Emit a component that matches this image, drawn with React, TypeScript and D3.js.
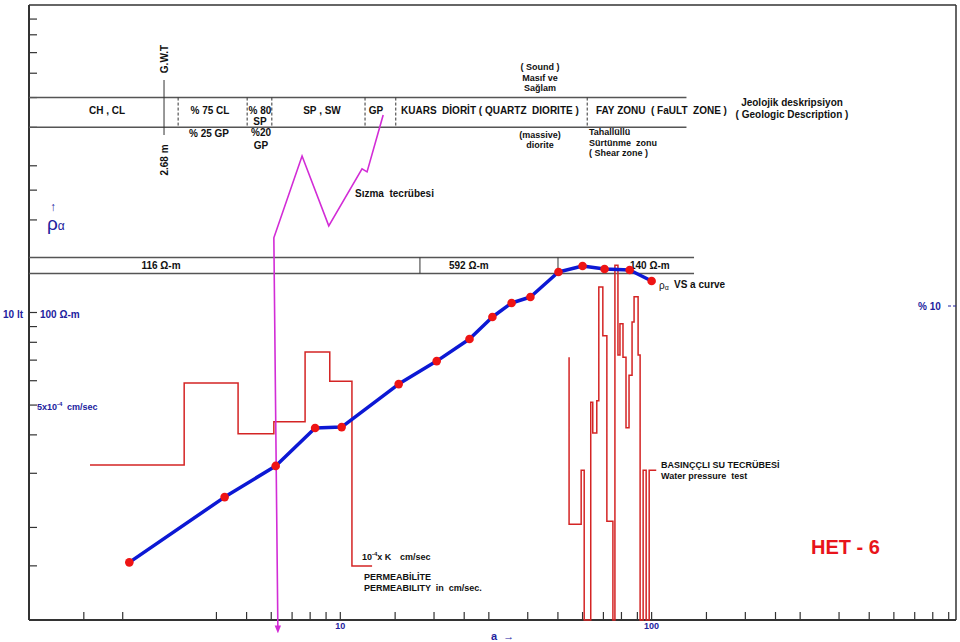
import React from "react";
import * as d3 from "d3";

// ---- Data ----
// Apparent resistivity curve (rho_a vs a)
const aValues = [2.1, 4.25, 6.2, 8.3, 10.1, 15.4, 20.4, 26, 30.8, 35.5, 40.8, 50.2, 60, 70.6, 85, 100];
const rhoValues = [15.4, 25.1, 31.7, 42.1, 42.4, 58.5, 69.5, 82.0, 96.7, 107.4, 112.3, 135.4, 141.6, 138.5, 137.5, 126.6];

const xTicks = [1.5, 2, 4, 5, 6, 7, 8, 9, 10, 15, 20, 25, 30, 40, 50, 60, 70, 80, 90, 100, 150, 200, 250, 300, 400, 500, 600, 700, 800, 900];
const yTicks = [15, 20, 30, 40, 50, 60, 70, 80, 90, 100, 200, 250, 300, 400, 500, 600, 700, 800, 900];
const xTickLabels = [10, 100];

// Geologic column (depth in m)
const gwtDepth = 2.68;
const geoBounds = [2.96, 4.33, 4.82, 6.67, 7.28, 11.08];
const geoEnd = 13.05;
const geoTableRho = [500, 400];

// Resistivity layers
const resBounds = [7.76, 10.5];
const resEnd = 13.2;
const resTableRho = [151, 134];
const resLabels = ["116 Ω-m", "592 Ω-m", "140 Ω-m"];

// Permeability step curves (depth m, k x10^-4 cm/sec)
const permLeft: [number, number][] = [
  [1.21, 3.62], [3.08, 5.54], [4.15, 4.35], [4.86, 4.63], [5.48, 6.26], [5.97, 5.58], [6.41, 1.26], [6.81, 1.26],
];
const permRight: [number, number][] = [
  [10.72, 6.14], [10.72, 2.24], [10.96, 3.5], [11.02, 0], [11.15, 5.09], [11.19, 4.37], [11.27, 5.12], [11.31, 7.78],
  [11.39, 6.64], [11.47, 2.31], [11.59, 0], [11.63, 8.29], [11.69, 6.19], [11.73, 6.92], [11.79, 6.14], [11.85, 4.49],
  [11.91, 5.72], [11.97, 6.96], [12.01, 7.55], [12.09, 6.19], [12.13, 0], [12.19, 3.5], [12.25, 0], [12.31, 3.5], [12.45, 3.5],
];

// Seepage test line (depth m, k units)
const seepage: [number, number][] = [
  [7.03, 11.8], [6.71, 10.47], [6.61, 10.54], [5.95, 9.21], [5.42, 10.84], [4.86, 8.93], [4.94, -0.22],
];

// ---- Scales ----
const W = 960, H = 642;
const xScale = d3.scaleLog().domain([1, 950]).range([29, 956]);
const yScale = d3.scaleLog().domain([10, 1000]).range([620, 5]);
const depthX = d3.scaleLinear().domain([0, 18.4]).range([29, 956]);
const kY = d3.scaleLinear().domain([0, 10]).range([620, 192]);

const FONT = "'Liberation Sans', Arial, Helvetica, sans-serif";
const BLUE_TXT = "#22229e";
const AXIS = "#333";
const PRE = { whiteSpace: "pre" as const };

export default function App() {
  const x0 = xScale(1), x1 = xScale(950);
  const yT = yScale(1000), yB = yScale(10);

  const rhoLine = d3.line<number>()
    .x((_, i) => xScale(aValues[i]))
    .y((d) => yScale(d));

  const stepLine = d3.line<[number, number]>()
    .x((d) => depthX(d[0]))
    .y((d) => kY(d[1]))
    .curve(d3.curveStepAfter);

  const seepLine = d3.line<[number, number]>()
    .x((d) => depthX(d[0]))
    .y((d) => kY(d[1]));

  const gx = geoTableRho.map((r) => yScale(r));
  const rx = resTableRho.map((r) => yScale(r));

  const txt = (s: string, x: number, y: number, opts: any = {}) => (
    <text x={x} y={y} fontFamily={FONT} fontSize={opts.size ?? 10} fontWeight={opts.weight ?? "bold"}
      textAnchor={opts.anchor ?? "start"} fill={opts.fill ?? "#111"} style={PRE}>{s}</text>
  );

  const resEdges = [0, ...resBounds, resEnd];

  return (
    <svg width={W} height={H} style={{ position: "absolute", left: 0, top: 0, background: "#fff" }}>
      <defs>
        <marker id="arr" viewBox="0 0 10 10" refX="5" refY="5" markerWidth="5" markerHeight="6" orient="auto">
          <path d="M0,1 L10,5 L0,9 z" fill="#d22cd6" />
        </marker>
      </defs>

      {/* frame */}
      <line x1={x0} y1={yT} x2={x1} y2={yT} stroke={AXIS} strokeWidth={1.5} />
      <line x1={x1} y1={yT} x2={x1} y2={yB} stroke={AXIS} strokeWidth={1.5} />
      <line x1={x0} y1={yT} x2={x0} y2={yB} stroke={AXIS} strokeWidth={2} />
      <line x1={x0} y1={yB} x2={x1} y2={yB} stroke={AXIS} strokeWidth={2} />

      {/* left ticks */}
      {yTicks.map((t) => (
        <line key={"yt" + t} x1={x0} x2={x0 + 8} y1={yScale(t)} y2={yScale(t)} stroke={AXIS} strokeWidth={1.2} />
      ))}
      {/* bottom ticks */}
      {xTicks.map((t) => (
        <line key={"xt" + t} x1={xScale(t)} x2={xScale(t)} y1={yB} y2={yB - 8} stroke={AXIS} strokeWidth={1.2} />
      ))}
      {xTickLabels.map((t) => (
        <text key={"xl" + t} x={xScale(t)} y={yB + 9} fontFamily={FONT} fontSize={9} fontWeight="bold"
          textAnchor="middle" fill={BLUE_TXT}>{t}</text>
      ))}

      {/* geologic table */}
      {gx.map((y, i) => (
        <line key={"g" + i} x1={x0} x2={depthX(geoEnd)} y1={y} y2={y} stroke="#555" strokeWidth={1.5} />
      ))}
      {geoBounds.map((d, i) => (
        <line key={"gb" + i} x1={depthX(d)} x2={depthX(d)} y1={gx[0]} y2={gx[1]} stroke={AXIS} strokeWidth={1} strokeDasharray="3,2" />
      ))}
      <line x1={depthX(gwtDepth)} x2={depthX(gwtDepth)} y1={80} y2={135} stroke={AXIS} strokeWidth={1} />
      <text transform={`translate(${depthX(gwtDepth) + 3.5},59) rotate(-90)`} fontFamily={FONT} fontSize={10} fontWeight="bold" textAnchor="middle" fill="#111">G.W.T</text>
      <text transform={`translate(${depthX(gwtDepth) + 3.5},160) rotate(-90)`} fontFamily={FONT} fontSize={10} fontWeight="bold" textAnchor="middle" fill="#111">2.68 m</text>

      {txt("CH , CL", 107, 114, { anchor: "middle" })}
      {txt("% 75 CL", 210, 114, { anchor: "middle" })}
      {txt("% 25 GP", 209, 137, { anchor: "middle" })}
      {txt("% 80", 260, 114, { anchor: "middle" })}
      {txt("SP", 260, 125, { anchor: "middle" })}
      {txt("%20", 261, 136, { anchor: "middle" })}
      {txt("GP", 261, 149, { anchor: "middle" })}
      {txt("SP , SW", 322, 114, { anchor: "middle" })}
      {txt("GP", 376, 114, { anchor: "middle" })}
      {txt("KUARS  DİORİT ( QUARTZ  DIORITE )", 401, 114)}
      {txt("FAY ZONU  ( FaULT  ZONE )", 596, 114)}
      {txt("Jeolojik deskripsiyon", 792, 106, { anchor: "middle" })}
      {txt("( Geologic Description )", 792, 118, { anchor: "middle" })}
      {txt("( Sound )", 540, 70, { anchor: "middle", size: 9 })}
      {txt("Masıf ve", 540, 81, { anchor: "middle", size: 9 })}
      {txt("Sağlam", 540, 91, { anchor: "middle", size: 9 })}
      {txt("(massive)", 540, 138, { anchor: "middle", size: 9 })}
      {txt("diorite", 540, 148, { anchor: "middle", size: 9 })}
      {txt("Tahallüllü", 589, 135, { size: 9 })}
      {txt("Sürtünme  zonu", 589, 146, { size: 9 })}
      {txt("( Shear zone )", 589, 156, { size: 9 })}
      {txt("Sızma  tecrübesi", 355, 197)}

      {/* resistivity table */}
      {rx.map((y, i) => (
        <line key={"r" + i} x1={x0} x2={depthX(resEnd)} y1={y} y2={y} stroke="#555" strokeWidth={1.5} />
      ))}
      {resBounds.map((d, i) => (
        <line key={"rb" + i} x1={depthX(d)} x2={depthX(d)} y1={rx[0]} y2={rx[1]} stroke={AXIS} strokeWidth={1} />
      ))}
      {txt(resLabels[0], depthX(resEdges[0]) + 132, 269, { anchor: "middle" })}
      {txt(resLabels[1], depthX(resEdges[1]) + 29, 269)}
      {txt(resLabels[2], depthX(resEdges[2]) + 72, 269)}

      {/* permeability steps */}
      <path d={stepLine(permLeft) ?? ""} fill="none" stroke="#d42424" strokeWidth={1.5} />
      <path d={stepLine(permRight) ?? ""} fill="none" stroke="#d42424" strokeWidth={1.5} />

      {/* seepage */}
      <path d={seepLine(seepage) ?? ""} fill="none" stroke="#d22cd6" strokeWidth={1.6} markerEnd="url(#arr)" />

      {/* rho_a curve */}
      <path d={rhoLine(rhoValues) ?? ""} fill="none" stroke="#0c18d4" strokeWidth={3.5} strokeLinejoin="round" />
      {rhoValues.map((r, i) => (
        <circle key={"p" + i} cx={xScale(aValues[i])} cy={yScale(r)} r={4.3} fill="#ee1414" />
      ))}

      {/* rho label */}
      <text x={659} y={289} fontFamily={FONT} fontSize={10} fill="#111">ρ<tspan fontSize={7} dy={1}>α</tspan></text>
      {txt("VS a curve", 674, 288)}

      {/* left labels */}
      {txt("10 lt", 3, 318, { fill: BLUE_TXT })}
      {txt("100 Ω-m", 40, 318, { fill: BLUE_TXT })}
      <text x={37} y={410} fontFamily={FONT} fontSize={9} fontWeight="bold" fill={BLUE_TXT}>
        5x10<tspan fontSize={6} dy={-4}>-4</tspan><tspan x={67} dy={4}>cm/sec</tspan>
      </text>
      <text x={53} y={211} fontFamily={FONT} fontSize={12} fontWeight="bold" textAnchor="middle" fill={BLUE_TXT}>↑</text>
      <text x={47} y={230} fontFamily={FONT} fontSize={19} fill={BLUE_TXT}>ρ<tspan fontSize={12} dy={0}>α</tspan></text>

      {/* right label */}
      {txt("% 10", 918, 310, { fill: BLUE_TXT })}
      <line x1={948} x2={956} y1={306} y2={306} stroke={BLUE_TXT} strokeWidth={1} strokeDasharray="3,2" />

      {/* bottom label */}
      {txt("a  →", 491, 640, { size: 11, fill: BLUE_TXT })}

      {/* permeability notes */}
      <text x={362} y={560} fontFamily={FONT} fontSize={9} fontWeight="bold" fill="#111">
        10<tspan fontSize={6} dy={-4}>-4</tspan><tspan dy={4}>x K</tspan><tspan x={400}>cm/sec</tspan>
      </text>
      {txt("PERMEABİLİTE", 364, 580, { size: 9 })}
      {txt("PERMEABILITY  in  cm/sec.", 364, 591, { size: 9 })}

      {txt("BASINÇÇLI SU TECRÜBESİ", 661, 468, { size: 9 })}
      {txt("Water pressure  test", 661, 479, { size: 9 })}

      {txt("HET - 6", 811, 554, { size: 20, fill: "#e8141b" })}
    </svg>
  );
}
